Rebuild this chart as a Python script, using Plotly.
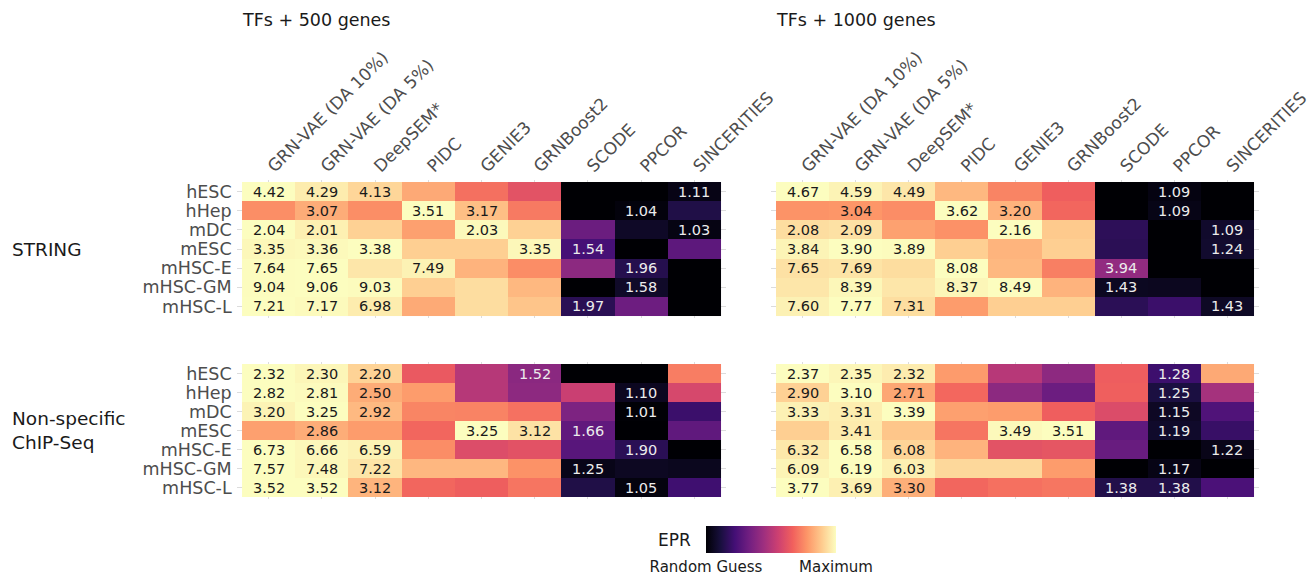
import numpy as np
import plotly.graph_objects as go

methods = ["GRN-VAE (DA 10%)", "GRN-VAE (DA 5%)", "DeepSEM*", "PIDC", "GENIE3",
           "GRNBoost2", "SCODE", "PPCOR", "SINCERITIES"]
datasets = ["hESC", "hHep", "mDC", "mESC", "mHSC-E", "mHSC-GM", "mHSC-L"]
col_titles = ["TFs + 500 genes", "TFs + 1000 genes"]
row_groups = ["STRING", "Non-specific<br>ChIP-Seq"]

# EPR values (rows = datasets, cols = methods)
epr_string_500 = [
    [4.42, 4.29, 4.13, 3.80, 3.39, 3.12, 0.97, 0.98, 1.11],
    [2.91, 3.07, 2.91, 3.51, 3.17, 2.81, 0.98, 1.04, 1.33],
    [2.04, 2.01, 1.94, 1.83, 2.03, 1.94, 1.33, 1.07, 1.03],
    [3.35, 3.36, 3.38, 3.14, 3.14, 3.35, 1.54, 0.98, 1.67],
    [7.64, 7.65, 7.32, 7.49, 6.59, 6.05, 3.66, 1.96, 0.98],
    [9.04, 9.06, 9.03, 8.25, 8.50, 7.85, 0.95, 1.58, 0.97],
    [7.21, 7.17, 6.98, 6.09, 6.78, 6.46, 1.97, 2.99, 0.97],
]
epr_string_1000 = [
    [4.67, 4.59, 4.49, 4.12, 3.72, 3.42, 0.97, 1.09, 0.98],
    [3.02, 3.04, 2.99, 3.62, 3.20, 2.78, 0.97, 1.09, 0.98],
    [2.08, 2.09, 1.93, 1.89, 2.16, 2.03, 1.19, 0.98, 1.09],
    [3.84, 3.90, 3.89, 3.61, 3.44, 3.61, 1.46, 0.98, 1.24],
    [7.65, 7.69, 7.58, 8.08, 7.02, 6.17, 3.94, 0.98, 0.97],
    [8.12, 8.39, 8.12, 8.37, 8.49, 7.29, 1.43, 1.40, 0.98],
    [7.60, 7.77, 7.31, 6.35, 7.09, 7.09, 2.08, 2.35, 1.43],
]
epr_chip_500 = [
    [2.32, 2.30, 2.20, 1.85, 1.66, 1.52, 0.97, 0.97, 1.96],
    [2.82, 2.81, 2.50, 2.44, 1.91, 1.73, 2.00, 1.10, 2.06],
    [3.20, 3.25, 2.92, 2.67, 2.66, 2.58, 1.81, 1.01, 1.45],
    [2.80, 2.86, 2.78, 2.53, 3.25, 3.12, 1.66, 0.97, 1.65],
    [6.73, 6.66, 6.59, 5.35, 4.44, 4.55, 2.55, 1.90, 0.97],
    [7.57, 7.48, 7.22, 6.58, 6.58, 6.06, 1.25, 1.39, 1.33],
    [3.52, 3.52, 3.12, 2.71, 2.66, 2.79, 1.33, 1.05, 1.53],
]
epr_chip_1000 = [
    [2.37, 2.35, 2.32, 2.08, 1.69, 1.55, 1.90, 1.28, 2.12],
    [2.90, 3.10, 2.71, 2.43, 1.84, 1.67, 2.39, 1.25, 1.97],
    [3.33, 3.31, 3.39, 2.91, 2.89, 2.58, 2.43, 1.15, 1.60],
    [3.26, 3.41, 3.21, 2.78, 3.49, 3.51, 1.73, 1.19, 1.48],
    [6.32, 6.58, 6.08, 5.69, 4.46, 4.52, 2.73, 0.97, 1.22],
    [6.09, 6.19, 6.03, 5.77, 5.77, 5.10, 0.97, 1.17, 0.98],
    [3.77, 3.69, 3.30, 2.88, 2.94, 2.97, 1.38, 1.38, 1.66],
]

# which cells carry a printed value (1 = shown)
show_string_500 = [
    [1, 1, 1, 0, 0, 0, 0, 0, 1],
    [0, 1, 0, 1, 1, 0, 0, 1, 0],
    [1, 1, 0, 0, 1, 0, 0, 0, 1],
    [1, 1, 1, 0, 0, 1, 1, 0, 0],
    [1, 1, 0, 1, 0, 0, 0, 1, 0],
    [1, 1, 1, 0, 0, 0, 0, 1, 0],
    [1, 1, 1, 0, 0, 0, 1, 0, 0],
]
show_string_1000 = [
    [1, 1, 1, 0, 0, 0, 0, 1, 0],
    [0, 1, 0, 1, 1, 0, 0, 1, 0],
    [1, 1, 0, 0, 1, 0, 0, 0, 1],
    [1, 1, 1, 0, 0, 0, 0, 0, 1],
    [1, 1, 0, 1, 0, 0, 1, 0, 0],
    [0, 1, 0, 1, 1, 0, 1, 0, 0],
    [1, 1, 1, 0, 0, 0, 0, 0, 1],
]
show_chip_500 = [
    [1, 1, 1, 0, 0, 1, 0, 0, 0],
    [1, 1, 1, 0, 0, 0, 0, 1, 0],
    [1, 1, 1, 0, 0, 0, 0, 1, 0],
    [0, 1, 0, 0, 1, 1, 1, 0, 0],
    [1, 1, 1, 0, 0, 0, 0, 1, 0],
    [1, 1, 1, 0, 0, 0, 1, 0, 0],
    [1, 1, 1, 0, 0, 0, 0, 1, 0],
]
show_chip_1000 = [
    [1, 1, 1, 0, 0, 0, 0, 1, 0],
    [1, 1, 1, 0, 0, 0, 0, 1, 0],
    [1, 1, 1, 0, 0, 0, 0, 1, 0],
    [0, 1, 0, 0, 1, 1, 0, 1, 0],
    [1, 1, 1, 0, 0, 0, 0, 0, 1],
    [1, 1, 1, 0, 0, 0, 0, 1, 0],
    [1, 1, 1, 0, 0, 0, 1, 1, 0],
]

W, H = 1310, 578
FONT = "DejaVu Sans"

def px_x(a, b):
    return [a / W, b / W]

def px_y(top, bottom):
    return [1 - bottom / H, 1 - top / H]

panels = [
    (epr_string_500, show_string_500, px_x(236.7, 726.3), px_y(180.1, 317.9), True, True),
    (epr_string_1000, show_string_1000, px_x(770.7, 1259.3), px_y(180.1, 317.9), False, True),
    (epr_chip_500, show_chip_500, px_x(236.7, 726.3), px_y(362.1, 498.9), True, False),
    (epr_chip_1000, show_chip_1000, px_x(770.7, 1259.3), px_y(362.1, 498.9), False, False),
]

fig = go.Figure()
annotations = []
for i, (vals, show, xd, yd, ylab, xlab) in enumerate(panels):
    v = np.array(vals, dtype=float)
    rowmax = v.max(axis=1, keepdims=True)
    z = np.clip((v - 1.0) / (rowmax - 1.0), 0, 1)
    xa = "x" if i == 0 else f"x{i+1}"
    ya = "y" if i == 0 else f"y{i+1}"
    trace = go.Heatmap(
        z=z, x=list(range(len(methods))), y=list(range(len(datasets))),
        zmin=0, zmax=1, colorscale="Magma", xaxis=xa, yaxis=ya,
        showscale=(i == 0), hoverinfo="skip",
    )
    if i == 0:
        trace.colorbar = dict(
            orientation="h", x=771 / W, xanchor="center", y=1 - 526 / H, yanchor="top",
            len=130, lenmode="pixels", thickness=27, thicknessmode="pixels",
            tickvals=[0, 1], ticktext=["Random Guess", "Maximum"], ticks="",
            outlinewidth=0, xpad=0, ypad=0,
            tickfont=dict(family=FONT, size=15, color="#1a1a1a"),
        )
    fig.add_trace(trace)
    key = "" if i == 0 else str(i + 1)
    fig.update_layout(**{
        f"xaxis{key}": dict(
            domain=xd, anchor=ya, range=[-0.6, len(methods) - 0.4],
            tickvals=list(range(len(methods))), ticktext=methods,
            showticklabels=xlab, side="top", tickangle=-45, ticks="",
            ticklabeloverflow="allow",
            showgrid=True, gridcolor="#dcdcdc", gridwidth=1, zeroline=False,
            automargin=False,
            tickfont=dict(family=FONT, size=17, color="#4d4d4d"),
        ),
        f"yaxis{key}": dict(
            domain=yd, anchor=xa, range=[len(datasets) - 0.4, -0.6],
            tickvals=list(range(len(datasets))), ticktext=datasets,
            showticklabels=ylab, ticks="", ticklabelstandoff=4,
            showgrid=True, gridcolor="#dcdcdc", gridwidth=1, zeroline=False,
            automargin=False,
            tickfont=dict(family=FONT, size=17.5, color="#4d4d4d"),
        ),
    })
    for r in range(len(datasets)):
        for c in range(len(methods)):
            if show[r][c]:
                annotations.append(dict(
                    x=c, y=r, xref=xa, yref=ya, text=f"{vals[r][c]:.2f}",
                    showarrow=False,
                    font=dict(family=FONT, size=14.5,
                              color="#1a1a1a" if z[r, c] > 0.5 else "#ececec"),
                ))

# column titles
for t, x0 in zip(col_titles, [240, 774]):
    annotations.append(dict(x=x0 / W, y=1 - 20 / H, xref="paper", yref="paper",
                            xanchor="left", yanchor="middle", text=t, showarrow=False,
                            font=dict(family=FONT, size=17.5, color="#1a1a1a")))
# row group titles
annotations.append(dict(x=10 / W, y=1 - 249 / H, xref="paper", yref="paper",
                        xanchor="left", yanchor="middle", text=row_groups[0], showarrow=False,
                        font=dict(family=FONT, size=18.5, color="#1a1a1a")))
annotations.append(dict(x=10 / W, y=1 - 430 / H, xref="paper", yref="paper",
                        xanchor="left", yanchor="middle", text=row_groups[1], showarrow=False,
                        align="left", font=dict(family=FONT, size=18.5, color="#1a1a1a")))
# legend title
annotations.append(dict(x=693 / W, y=1 - 540 / H, xref="paper", yref="paper",
                        xanchor="right", yanchor="middle", text="EPR", showarrow=False,
                        font=dict(family=FONT, size=17, color="#1a1a1a")))

fig.update_layout(
    width=W, height=H, margin=dict(l=0, r=0, t=0, b=0, autoexpand=False),
    paper_bgcolor="white", plot_bgcolor="white",
    annotations=annotations, showlegend=False,
    font=dict(family=FONT),
)
fig.write_html("out.html")
